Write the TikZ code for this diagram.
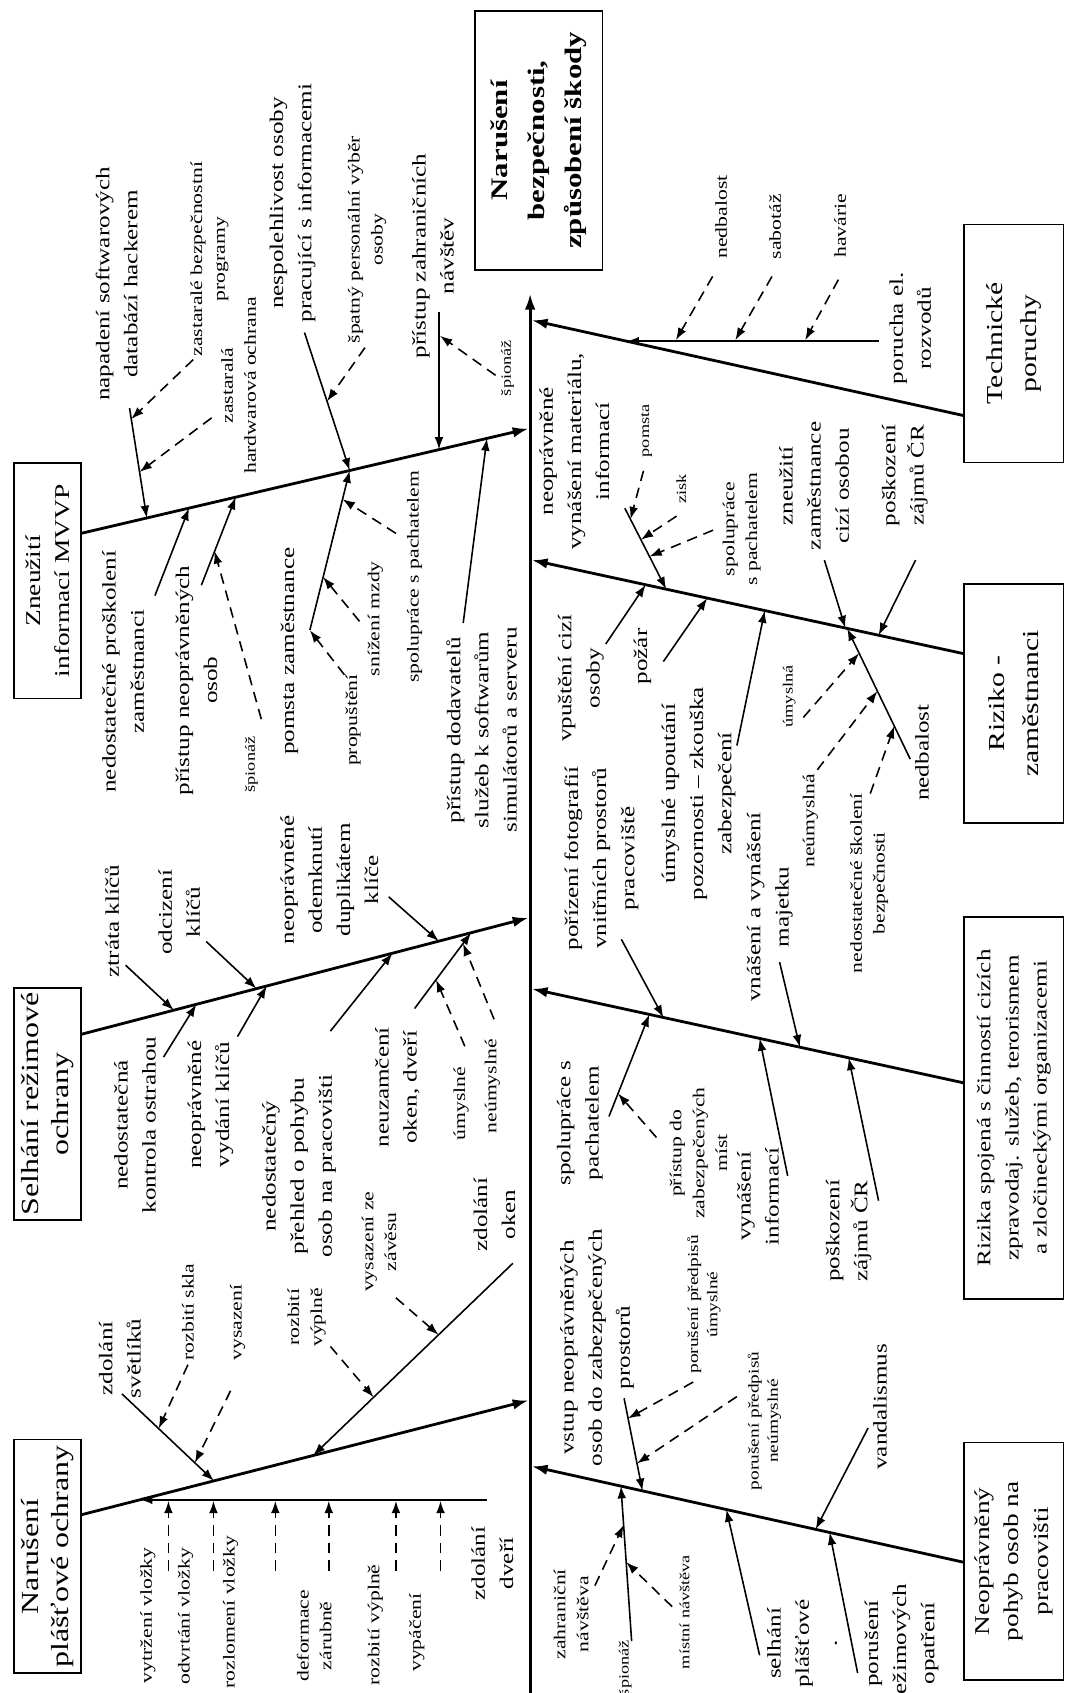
\documentclass[tikz,border=0pt]{standalone}
\usepackage{fontspec}
\setmainfont[FakeStretch=1.3]{Liberation Serif}
\usetikzlibrary{arrows.meta,calc}

\tikzset{
  bone/.style={line width=1.6pt,-{Latex[length=9pt,width=6pt]}},
  cause/.style={line width=0.9pt,-{Latex[length=7pt,width=5pt]}},
  weak/.style={cause,dash pattern=on 6pt off 4pt},
  lbl/.style={rotate=90,align=center,inner sep=0pt,font=\fontsize{11}{16}\selectfont},
  sml/.style={lbl,font=\fontsize{9.5}{13}\selectfont},
  tny/.style={lbl,font=\fontsize{8}{10.5}\selectfont},
  catbox/.style={rotate=90,draw,line width=0.9pt,align=center,inner sep=2pt,
    font=\fontsize{12.5}{17}\selectfont},
}

\begin{document}
\begin{tikzpicture}[x=0.216mm,y=-0.216mm]
\useasboundingbox (0,0) rectangle (990,1568);

\node[catbox,minimum width=147.5pt,minimum height=72.5pt,
  font=\bfseries\fontsize{13.5}{21}\selectfont] (head) at (499,130)
  {Narušení\\bezpečnosti,\\způsobení škody};
\node[catbox,minimum width=134pt,minimum height=38pt,font=\fontsize{12}{16.5}\selectfont]
  (zne) at (44,538) {Zneužití\\informací MVVP};
\node[catbox,minimum width=132pt,minimum height=38pt,font=\fontsize{14}{17.5}\selectfont]
  (sel) at (44,1022.5) {Selhání režimové\\ochrany};
\node[catbox,minimum width=133pt,minimum height=38pt,font=\fontsize{14}{17.5}\selectfont]
  (nar) at (44,1441.5) {Narušení\\plášťové ochrany};
\node[catbox,minimum width=135.5pt,minimum height=56.5pt,font=\fontsize{13}{19.5}\selectfont]
  (tech) at (939,318) {Technické\\poruchy};
\node[catbox,minimum width=136pt,minimum height=56.5pt,font=\fontsize{13}{19.5}\selectfont]
  (riz) at (939,651.5) {Riziko -\\zaměstnanci};
\node[catbox,minimum width=217.5pt,minimum height=56.5pt,font=\fontsize{11}{16}\selectfont]
  (cizi) at (939,1026) {Rizika spojená s činností cizích\\zpravodaj. služeb, terorismem\\a zločineckými organizacemi};
\node[catbox,minimum width=135pt,minimum height=56.5pt,font=\fontsize{12}{17}\selectfont]
  (pohyb) at (939,1446) {Neoprávněný\\pohyb osob na\\pracovišti};

% spine and main bones
\coordinate (sp0) at (491,1568);  \coordinate (sp1) at (491,272);
\coordinate (a0) at (75,494);     \coordinate (a1) at (489.5,397);
\coordinate (b0) at (75,958);     \coordinate (b1) at (489.5,850);
\coordinate (c0) at (75,1403);    \coordinate (c1) at (489.5,1297);
\coordinate (e0) at (893,385);    \coordinate (e1) at (492.5,296.6);
\coordinate (d0) at (893,605.5);  \coordinate (d1) at (492.5,518.7);
\coordinate (f0) at (893,1003);   \coordinate (f1) at (492.5,915.8);
\coordinate (g0) at (893,1447);   \coordinate (g1) at (492.5,1358);
\draw[bone] (sp0) -- (sp1);
\foreach \p in {a,b,c,d,e,f,g}
  \draw[bone] (\p0) -- (\p1);

% Zneuziti informaci MVVP
\node[lbl] (napad) at (108,263) {napadení softwarových\\databází hackerem};
\node[sml] (zastBP) at (194,240) {zastaralé bezpečnostní\\programy};
\node[sml] (zastHO) at (221,357) {zastaralá\\hardwarová ochrana};
\node[lbl] (nespol) at (271,188) {nespolehlivost osoby\\pracující s informacemi};
\node[sml] (spatVyb) at (340,222) {špatný personální výběr\\osoby};
\node[lbl] (pristZahr) at (401,237) {přístup zahraničních\\návštěv};
\node[tny] (spionZahr) at (470,341) {špionáž};
\node[lbl] (nedPros) at (114,622) {nedostatečné proškolení\\zaměstnanci};
\node[lbl] (pristNeo) at (182,630) {přístup neoprávněných\\osob};
\node[tny] (spionNeo) at (233,708) {špionáž};
\node[lbl] (pomsta) at (268,603) {pomsta zaměstnance};
\node[sml] (propust) at (327,667) {propuštění};
\node[sml] (snizMzdy) at (347.6,573) {snížení mzdy};
\node[sml] (spolA) at (384,534) {spolupráce s pachatelem};
\node[lbl] (pristDod) at (446,676) {přístup dodavatelů\\služeb k softwarům\\simulátorů a serveru};

\coordinate (napad-s) at (120,378);     \coordinate (napad-t) at ($(a0)!(136,480)!(a1)$);
\coordinate (zastBP-s) at (179,333);    \coordinate (zastBP-t) at ($(napad-s)!(122,388)!(napad-t)$);
\coordinate (zastHO-s) at (196,387);    \coordinate (zastHO-t) at ($(napad-s)!(130,437)!(napad-t)$);
\coordinate (nedPros-s) at (143.5,551.6); \coordinate (nedPros-t) at ($(a0)!(175,470)!(a1)$);
\coordinate (pristNeo-s) at (186.5,542); \coordinate (pristNeo-t) at ($(a0)!(218.4,460.7)!(a1)$);
\coordinate (spionNeo-s) at (242,666);  \coordinate (spionNeo-t) at ($(pristNeo-s)!(205,513)!(pristNeo-t)$);
\coordinate (nespol-s) at (282,308);    \coordinate (nespol-t) at ($(a0)!(324,436)!(a1)$);
\coordinate (spatVyb-s) at (338,322);   \coordinate (spatVyb-t) at ($(nespol-s)!(308,370)!(nespol-t)$);
\coordinate (pomsta-s) at (287,583.5);
\coordinate (propust-s) at (319,625);   \coordinate (propust-t) at ($(pomsta-s)!(292,585)!(nespol-t)$);
\coordinate (snizMzdy-s) at (333,575.5); \coordinate (snizMzdy-t) at ($(pomsta-s)!(304.5,535.7)!(nespol-t)$);
\coordinate (spolA-s) at (366.7,494);   \coordinate (spolA-t) at ($(pomsta-s)!(323.7,464)!(nespol-t)$);
\coordinate (pristDod-s) at (429,577);  \coordinate (pristDod-t) at ($(a0)!(451,406)!(a1)$);
\coordinate (pristZahr-s) at (406.6,289); \coordinate (pristZahr-t) at (406.6,416.3);
\coordinate (spionZahr-s) at (459,347.6); \coordinate (spionZahr-t) at (407.5,311);

\draw[cause] (napad-s) -- (napad-t);
\draw[weak] (zastBP-s) -- (zastBP-t);
\draw[weak] (zastHO-s) -- (zastHO-t);
\draw[cause] (nedPros-s) -- (nedPros-t);
\draw[cause] (pristNeo-s) -- (pristNeo-t);
\draw[weak] (spionNeo-s) -- (spionNeo-t);
\draw[cause] (nespol-s) -- (nespol-t);
\draw[weak] (spatVyb-s) -- (spatVyb-t);
\draw[cause] (pomsta-s) -- (nespol-t);
\draw[weak] (propust-s) -- (propust-t);
\draw[weak] (snizMzdy-s) -- (snizMzdy-t);
\draw[weak] (spolA-s) -- (spolA-t);
\draw[cause] (pristDod-s) -- (pristDod-t);
\draw[cause] (pristZahr-s) -- (pristZahr-t);
\draw[weak] (spionZahr-s) -- (spionZahr-t);

% Selhani rezimove ochrany
\node[lbl] (ztrata) at (103.6,853) {ztráta klíčů};
\node[lbl] (odciz) at (166,845) {odcizení\\klíčů};
\node[lbl] (odemk) at (305,815) {neoprávněné\\odemknutí\\duplikátem\\klíče};
\node[lbl] (nedKontr) at (125,1042) {nedostatečná\\kontrola ostrahou};
\node[lbl] (vydani) at (195,1023) {neoprávněné\\vydání klíčů};
\node[lbl] (prehled) at (277,1080) {nedostatečný\\přehled o pohybu\\osob na pracovišti};
\node[lbl] (neuzam) at (368,1007) {neuzamčení\\oken, dveří};
\node[sml] (umyslB) at (427,1022) {úmyslné};
\node[sml] (neumyslB) at (456,1006) {neúmyslné};

\coordinate (ztrata-s) at (116.4,894);  \coordinate (ztrata-t) at ($(b0)!(161,935.6)!(b1)$);
\coordinate (odciz-s) at (191,872);     \coordinate (odciz-t) at ($(b0)!(237.6,915.6)!(b1)$);
\coordinate (odemk-s) at (360,830.6);   \coordinate (odemk-t) at ($(b0)!(406,870)!(b1)$);
\coordinate (nedKontr-s) at (151.5,979); \coordinate (nedKontr-t) at ($(b0)!(181.8,930)!(b1)$);
\coordinate (vydani-s) at (220,960);    \coordinate (vydani-t) at ($(b0)!(247,913)!(b1)$);
\coordinate (prehled-s) at (306,955);   \coordinate (prehled-t) at ($(b0)!(363.5,882.7)!(b1)$);
\coordinate (neuzam-s) at (384,934);    \coordinate (neuzam-t) at ($(b0)!(437,866.4)!(b1)$);
\coordinate (umyslB-s) at (430.5,969);  \coordinate (umyslB-t) at ($(neuzam-s)!(410,912)!(neuzam-t)$);
\coordinate (neumyslB-s) at (457.6,944); \coordinate (neumyslB-t) at ($(neuzam-s)!(437,880)!(neuzam-t)$);

\foreach \n in {ztrata,odciz,odemk,nedKontr,vydani,prehled,neuzam}
  \draw[cause] (\n-s) -- (\n-t);
\foreach \n in {umyslB,neumyslB}
  \draw[weak] (\n-s) -- (\n-t);

% Naruseni plastove ochrany
\node[lbl] (svetl) at (111,1258) {zdolání\\světlíků};
\node[sml] (sklo) at (174,1215) {rozbití skla};
\node[sml] (vysaz) at (220,1225) {vysazení};
\node[lbl] (okna) at (458,1125) {zdolání\\oken};
\node[sml] (vyplOk) at (284,1220) {rozbití\\výplně};
\node[sml] (zaves) at (351,1150) {vysazení ze\\závěsu};
\node[lbl] (dvere) at (456,1448) {zdolání\\dveří};
\node[sml] (vytrz) at (137,1496) {vytržení vložky};
\node[sml] (odvrt) at (172,1497) {odvrtání vložky};
\node[sml] (rozlom) at (213.6,1493) {rozlomení vložky};
\node[sml] (deform) at (291,1515) {deformace\\zárubně};
\node[sml] (vyplDv) at (347.6,1505) {rozbití výplně};
\node[sml] (vypac) at (386,1512) {vypáčení};

\coordinate (svetl-s) at (113,1291);    \coordinate (svetl-t) at ($(c0)!(198,1371)!(c1)$);
\coordinate (sklo-s) at (174,1264);     \coordinate (sklo-t) at ($(svetl-s)!(148,1322)!(svetl-t)$);
\coordinate (vysaz-s) at (213.6,1288);  \coordinate (vysaz-t) at ($(svetl-s)!(185,1350)!(svetl-t)$);
\coordinate (okna-s) at (475,1170);     \coordinate (okna-t) at ($(c0)!(290,1348)!(c1)$);
\coordinate (vyplOk-s) at (306,1247);   \coordinate (vyplOk-t) at ($(okna-s)!(344,1292)!(okna-t)$);
\coordinate (zaves-s) at (366.7,1202);  \coordinate (zaves-t) at ($(okna-s)!(405,1235)!(okna-t)$);
\coordinate (dvere-s) at (451,1389);    \coordinate (dvere-t) at (129.7,1389);

\foreach \n in {svetl,okna,dvere}
  \draw[cause] (\n-s) -- (\n-t);
\foreach \n in {sklo,vysaz,vyplOk,zaves}
  \draw[weak] (\n-s) -- (\n-t);
\foreach \x in {156,197.7,255,304.5,366.7,408}
  \draw[weak] (\x,1455) -- (\x,1390);

% Technicke poruchy
\node[lbl] (poruchaEl) at (843,304) {porucha el.\\rozvodů};
\node[sml] (nedbE) at (668,201) {nedbalost};
\node[sml] (sabot) at (718,210) {sabotáž};
\node[sml] (havar) at (778,209) {havárie};

\coordinate (poruchaEl-s) at (813.7,316); \coordinate (poruchaEl-t) at (580.4,316);
\coordinate (nedbE-s) at (660,256);     \coordinate (nedbE-t) at (626,315);
\coordinate (sabot-s) at (715,256);     \coordinate (sabot-t) at (681,315);
\coordinate (havar-s) at (776.5,259);   \coordinate (havar-t) at (745.7,315);

\draw[cause] (poruchaEl-s) -- (poruchaEl-t);
\foreach \n in {nedbE,sabot,havar}
  \draw[weak] (\n-s) -- (\n-t);

% Riziko - zamestnanci
\node[lbl] (vynMat) at (532,418) {neoprávněné\\vynášení materiálu,\\informací};
\node[tny] (pomstaD) at (599,399) {pomsta};
\node[tny] (zisk) at (631,453) {zisk};
\node[sml] (spolD) at (687,490) {spolupráce\\s pachatelem};
\node[lbl] (zneuzZam) at (754,450) {zneužití\\zaměstnance\\cizí osobou};
\node[lbl] (poskD) at (838,440) {poškození\\zájmů ČR};
\node[lbl] (vpust) at (538,628) {vpuštění cizí\\osoby};
\node[lbl] (pozar) at (595,608) {požár};
\node[lbl] (upout) at (647,735) {úmyslné upoutání\\pozornosti – zkouška\\zabezpečení};
\node[lbl] (nedbD) at (854,697) {nedbalost};
\node[tny] (umyslD) at (731,645) {úmyslná};
\node[sml] (neumyslD) at (750.5,760) {neúmyslná};
\node[sml] (skoleni) at (805,818) {nedostatečné školení\\bezpečnosti};

\coordinate (vynMat-s) at (578.7,470.7); \coordinate (vynMat-t) at ($(d0)!(617,545.6)!(d1)$);
\coordinate (pomstaD-s) at (596,436);   \coordinate (pomstaD-t) at ($(vynMat-s)!(589.5,478)!(vynMat-t)$);
\coordinate (zisk-s) at (626.6,478);    \coordinate (zisk-t) at ($(vynMat-s)!(605,494)!(vynMat-t)$);
\coordinate (spolD-s) at (660.5,491);   \coordinate (spolD-t) at ($(vynMat-s)!(614,509)!(vynMat-t)$);
\coordinate (zneuzZam-s) at (763.5,518.7); \coordinate (zneuzZam-t) at ($(d0)!(783,581.6)!(d1)$);
\coordinate (poskD-s) at (848,518.7);   \coordinate (poskD-t) at ($(d0)!(813.7,588.3)!(d1)$);
\coordinate (vpust-s) at (561,596.5);   \coordinate (vpust-t) at ($(d0)!(598,541.5)!(d1)$);
\coordinate (pozar-s) at (614.4,612.7); \coordinate (pozar-t) at ($(d0)!(655,553.9)!(d1)$);
\coordinate (upout-s) at (682.5,690.5); \coordinate (upout-t) at ($(d0)!(708.4,565)!(d1)$);
\coordinate (nedbD-s) at (843,703);     \coordinate (nedbD-t) at ($(d0)!(784.6,582)!(d1)$);
\coordinate (umyslD-s) at (744,664.5);  \coordinate (umyslD-t) at ($(nedbD-s)!(779.7,612.7)!(nedbD-t)$);
\coordinate (neumyslD-s) at (757,713);  \coordinate (neumyslD-t) at ($(nedbD-s)!(802.4,645)!(nedbD-t)$);
\coordinate (skoleni-s) at (806,735);   \coordinate (skoleni-t) at ($(nedbD-s)!(827,673)!(nedbD-t)$);

\foreach \n in {vynMat,zneuzZam,poskD,vpust,pozar,upout,nedbD}
  \draw[cause] (\n-s) -- (\n-t);
\foreach \n in {pomstaD,zisk,spolD,umyslD,neumyslD,skoleni}
  \draw[weak] (\n-s) -- (\n-t);

% Rizika spojena s cinnosti cizich zpravodajskych sluzeb
\node[lbl] (foto) at (557,795) {pořízení fotografií\\vnitřních prostorů\\pracoviště};
\node[lbl] (majetek) at (713,840) {vnášení a vynášení\\majetku};
\node[lbl] (spolF) at (537,1040) {spolupráce s\\pachatelem};
\node[sml] (mista) at (647,1068) {přístup do\\zabezpečených\\míst};
\node[lbl] (vynInf) at (702,1108) {vynášení\\informací};
\node[lbl] (poskF) at (786,1140) {poškození\\zájmů ČR};

\coordinate (foto-s) at (575.5,870);    \coordinate (foto-t) at ($(f0)!(614.4,942.3)!(f1)$);
\coordinate (majetek-s) at (722,891);   \coordinate (majetek-t) at ($(f0)!(740.8,969.8)!(f1)$);
\coordinate (spolF-s) at (564,1034);    \coordinate (spolF-t) at ($(f0)!(601.4,939.4)!(f1)$);
\coordinate (mista-s) at (608,1053.5);  \coordinate (mista-t) at ($(spolF-s)!(577,1014.6)!(spolF-t)$);
\coordinate (vynInf-s) at (729.5,1089); \coordinate (vynInf-t) at ($(f0)!(703.5,961.7)!(f1)$);
\coordinate (poskF-s) at (813.7,1112);  \coordinate (poskF-t) at ($(f0)!(786,979.7)!(f1)$);

\foreach \n in {foto,majetek,spolF,vynInf,poskF}
  \draw[cause] (\n-s) -- (\n-t);
\draw[weak] (mista-s) -- (mista-t);

% Neopravneny pohyb osob na pracovisti
\node[lbl] (vstup) at (553,1248) {vstup neoprávněných\\osob do zabezpečených\\prostorů};
\node[tny,font=\fontsize{8.5}{11}\selectfont] (predpU) at (652,1208) {porušení předpisů\\úmyslné};
\node[tny,font=\fontsize{8.5}{11}\selectfont] (predpN) at (708,1316) {porušení předpisů\\neúmyslné};
\node[lbl] (vandal) at (815,1303) {vandalismus};
\node[tny] (spionG) at (579,1545) {špionáž};
\node[sml] (zahrNav) at (529,1495) {zahraniční\\návštěva};
\node[tny] (mistNav) at (634,1493) {místní návštěva};
\node[lbl] (plast) at (743,1522) {selhání\\plášťové\\.};
\node[lbl] (rezim) at (835,1522) {porušení\\režimových\\opatření};

\coordinate (vstup-s) at (578,1295);    \coordinate (vstup-t) at ($(g0)!(595,1380.7)!(g1)$);
\coordinate (predpU-s) at (642,1280);   \coordinate (predpU-t) at ($(vstup-s)!(585,1313)!(vstup-t)$);
\coordinate (predpN-s) at (682.5,1293.4); \coordinate (predpN-t) at ($(vstup-s)!(592,1355)!(vstup-t)$);
\coordinate (vandal-s) at (804,1322.6); \coordinate (vandal-t) at ($(g0)!(755.4,1416.4)!(g1)$);
\coordinate (spionG-s) at (585,1520);   \coordinate (spionG-t) at ($(g0)!(574,1381)!(g1)$);
\coordinate (zahrNav-s) at (551,1468.5); \coordinate (zahrNav-t) at ($(spionG-s)!(569,1413)!(spionG-t)$);
\coordinate (mistNav-s) at (622.5,1488); \coordinate (mistNav-t) at ($(spionG-s)!(590,1446)!(spionG-t)$);
\coordinate (plast-s) at (703.5,1533);  \coordinate (plast-t) at ($(g0)!(672.7,1398)!(g1)$);
\coordinate (rezim-s) at (794.3,1549.5); \coordinate (rezim-t) at ($(g0)!(768.4,1419)!(g1)$);

\foreach \n in {vstup,vandal,spionG,plast,rezim}
  \draw[cause] (\n-s) -- (\n-t);
\foreach \n in {predpU,predpN,zahrNav,mistNav}
  \draw[weak] (\n-s) -- (\n-t);
\end{tikzpicture}
\end{document}
